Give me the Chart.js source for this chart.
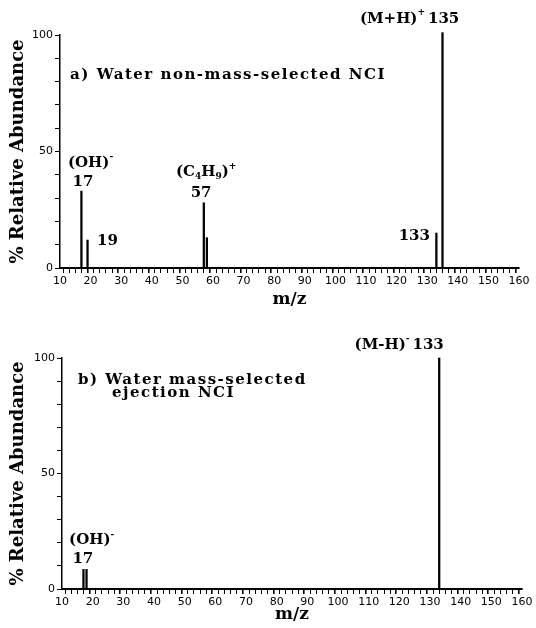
<!DOCTYPE html>
<html>
<head>
<meta charset="utf-8">
<script src="https://cdn.jsdelivr.net/npm/chart.js@4.4.0/dist/chart.umd.min.js"></script>
<style>
  html, body { margin: 0; padding: 0; background: #fff; }
  .kutu { position: relative; width: 536px; height: 314px; }
</style>
</head>
<body>
<div class="kutu"><canvas id="grafikA"></canvas></div>
<div class="kutu"><canvas id="grafikB"></canvas></div>
<script>
// Veri (a) non-mass-selected
const mzA = [17, 19, 57, 58, 133, 135];
const bolluk_A = [33, 12, 28, 13, 15, 101];

// Veri (b) mass-selected ejection
const mzB = [17, 18, 133];
const bolluk_B = [8.5, 8.5, 100];

const xMin = 10, xMax = 160;
const yTickLabels = [0, 50, 100];

// Etiketler: parca listesi, [metin, 'sup'|'sub'|undefined]
const etiketA = [
    { p: [['a) Water non-mass-selected NCI']], x: 13.3, y: 83, al: 'left', baslik: true },
    { p: [['(OH)'], ['-', 'sup']], x: 12.6, y: 45, al: 'left' },
    { p: [['17']], x: 17.5, y: 37, al: 'center' },
    { p: [['19']], x: 22.1, y: 11.6, al: 'left' },
    { p: [['(C'], ['4', 'sub'], ['H'], ['9', 'sub'], [')'], ['+', 'sup']], x: 47.9, y: 41, al: 'left' },
    { p: [['57']], x: 56.1, y: 32, al: 'center' },
    { p: [['133']], x: 130.9, y: 13.7, al: 'right' },
    { p: [['(M+H)'], ['+', 'sup'], ['135']], x: 108, y: 107, al: 'left' }
];
const etiketB = [
    { p: [['b) Water mass-selected']], x: 15.2, y: 90.5, al: 'left', baslik: true },
    { p: [['ejection NCI']], x: 26.3, y: 85, al: 'left', baslik: true },
    { p: [['(OH)'], ['-', 'sup']], x: 12.3, y: 21, al: 'left' },
    { p: [['17']], x: 16.8, y: 13, al: 'center' },
    { p: [['(M-H)'], ['-', 'sup'], ['133']], x: 105.4, y: 105.6, al: 'left' }
];

const SERIF = '"DejaVu Serif", serif';

const etiketPlugin = {
    id: 'etiketler',
    afterDraw(chart) {
        const ctx = chart.ctx;
        const liste = chart.options.plugins.etiketler.liste;
        ctx.save();
        ctx.fillStyle = '#000';
        ctx.textBaseline = 'middle';
        liste.forEach(e => {
            const px = chart.scales.x.getPixelForValue(e.x);
            const py = chart.scales.y.getPixelForValue(e.y);
            ctx.letterSpacing = e.baslik ? '1.5px' : '0px';
            // toplam genislik
            let w = 0;
            e.p.forEach(([t, k]) => {
                ctx.font = k ? 'bold 9px ' + SERIF : 'bold 15px ' + SERIF;
                w += ctx.measureText(t).width + (k === 'sup' ? 3 : 0);
            });
            let x = px;
            if (e.al === 'center') x = px - w / 2;
            if (e.al === 'right') x = px - w;
            ctx.textAlign = 'left';
            e.p.forEach(([t, k]) => {
                ctx.font = k ? 'bold 9px ' + SERIF : 'bold 15px ' + SERIF;
                let dy = 0;
                if (k === 'sup') dy = -6;
                if (k === 'sub') dy = 4;
                ctx.fillText(t, x, py + dy);
                x += ctx.measureText(t).width + (k === 'sup' ? 3 : 0);
            });
        });
        ctx.restore();
    }
};

function grafikCiz(id, mz, bolluk, etiketler, pad, yWidth, xHeight) {
    const ctx = document.getElementById(id).getContext('2d');
    return new Chart(ctx, {
        type: 'bar',
        data: {
            datasets: [{
                data: mz.map((m, i) => ({ x: m, y: bolluk[i] })),
                backgroundColor: '#000',
                borderWidth: 0,
                barThickness: 1.6,
                clip: false
            }]
        },
        options: {
            responsive: true,
            maintainAspectRatio: false,
            animation: false,
            layout: { padding: pad },
            plugins: {
                legend: { display: false },
                tooltip: { enabled: false },
                etiketler: { liste: etiketler }
            },
            scales: {
                x: {
                    type: 'linear',
                    min: xMin,
                    max: xMax,
                    offset: false,
                    grid: {
                        drawOnChartArea: false,
                        drawTicks: true,
                        tickLength: 5,
                        color: '#000',
                        lineWidth: c => (c.tick && c.tick.value % 10 === 0 ? 1.6 : 1)
                    },
                    border: { display: true, color: '#000', width: 2 },
                    ticks: {
                        stepSize: 2,
                        autoSkip: false,
                        maxRotation: 0,
                        color: '#000',
                        padding: 2,
                        font: { family: '"DejaVu Sans", sans-serif', size: 11 },
                        callback: v => (v % 10 === 0 ? v : '')
                    },
                    title: {
                        display: true,
                        text: 'm/z',
                        color: '#000',
                        padding: { top: 0, bottom: 0 },
                        font: { family: SERIF, size: 17, weight: 'bold' }
                    },
                    afterFit: s => { s.height = xHeight; }
                },
                y: {
                    min: 0,
                    max: 100,
                    grid: { drawOnChartArea: false, drawTicks: true, tickLength: 5, color: '#000', lineWidth: 1 },
                    border: { display: true, color: '#000', width: 1.5 },
                    ticks: {
                        stepSize: 10,
                        autoSkip: false,
                        color: '#000',
                        padding: 2,
                        font: { family: '"DejaVu Sans", sans-serif', size: 11 },
                        callback: v => (yTickLabels.includes(v) ? v : '')
                    },
                    title: {
                        display: true,
                        text: '% Relative Abundance',
                        color: '#000',
                        padding: { top: 0, bottom: 4 },
                        font: { family: SERIF, size: 18, weight: 'bold' }
                    },
                    afterFit: s => { s.width = yWidth; }
                }
            }
        },
        plugins: [etiketPlugin]
    });
}

grafikCiz('grafikA', mzA, bolluk_A, etiketA, { top: 35, right: 17, bottom: 4, left: 8 }, 52, 42);
grafikCiz('grafikB', mzB, bolluk_B, etiketB, { top: 44, right: 14, bottom: 3, left: 8 }, 54, 36);
</script>
</body>
</html>
